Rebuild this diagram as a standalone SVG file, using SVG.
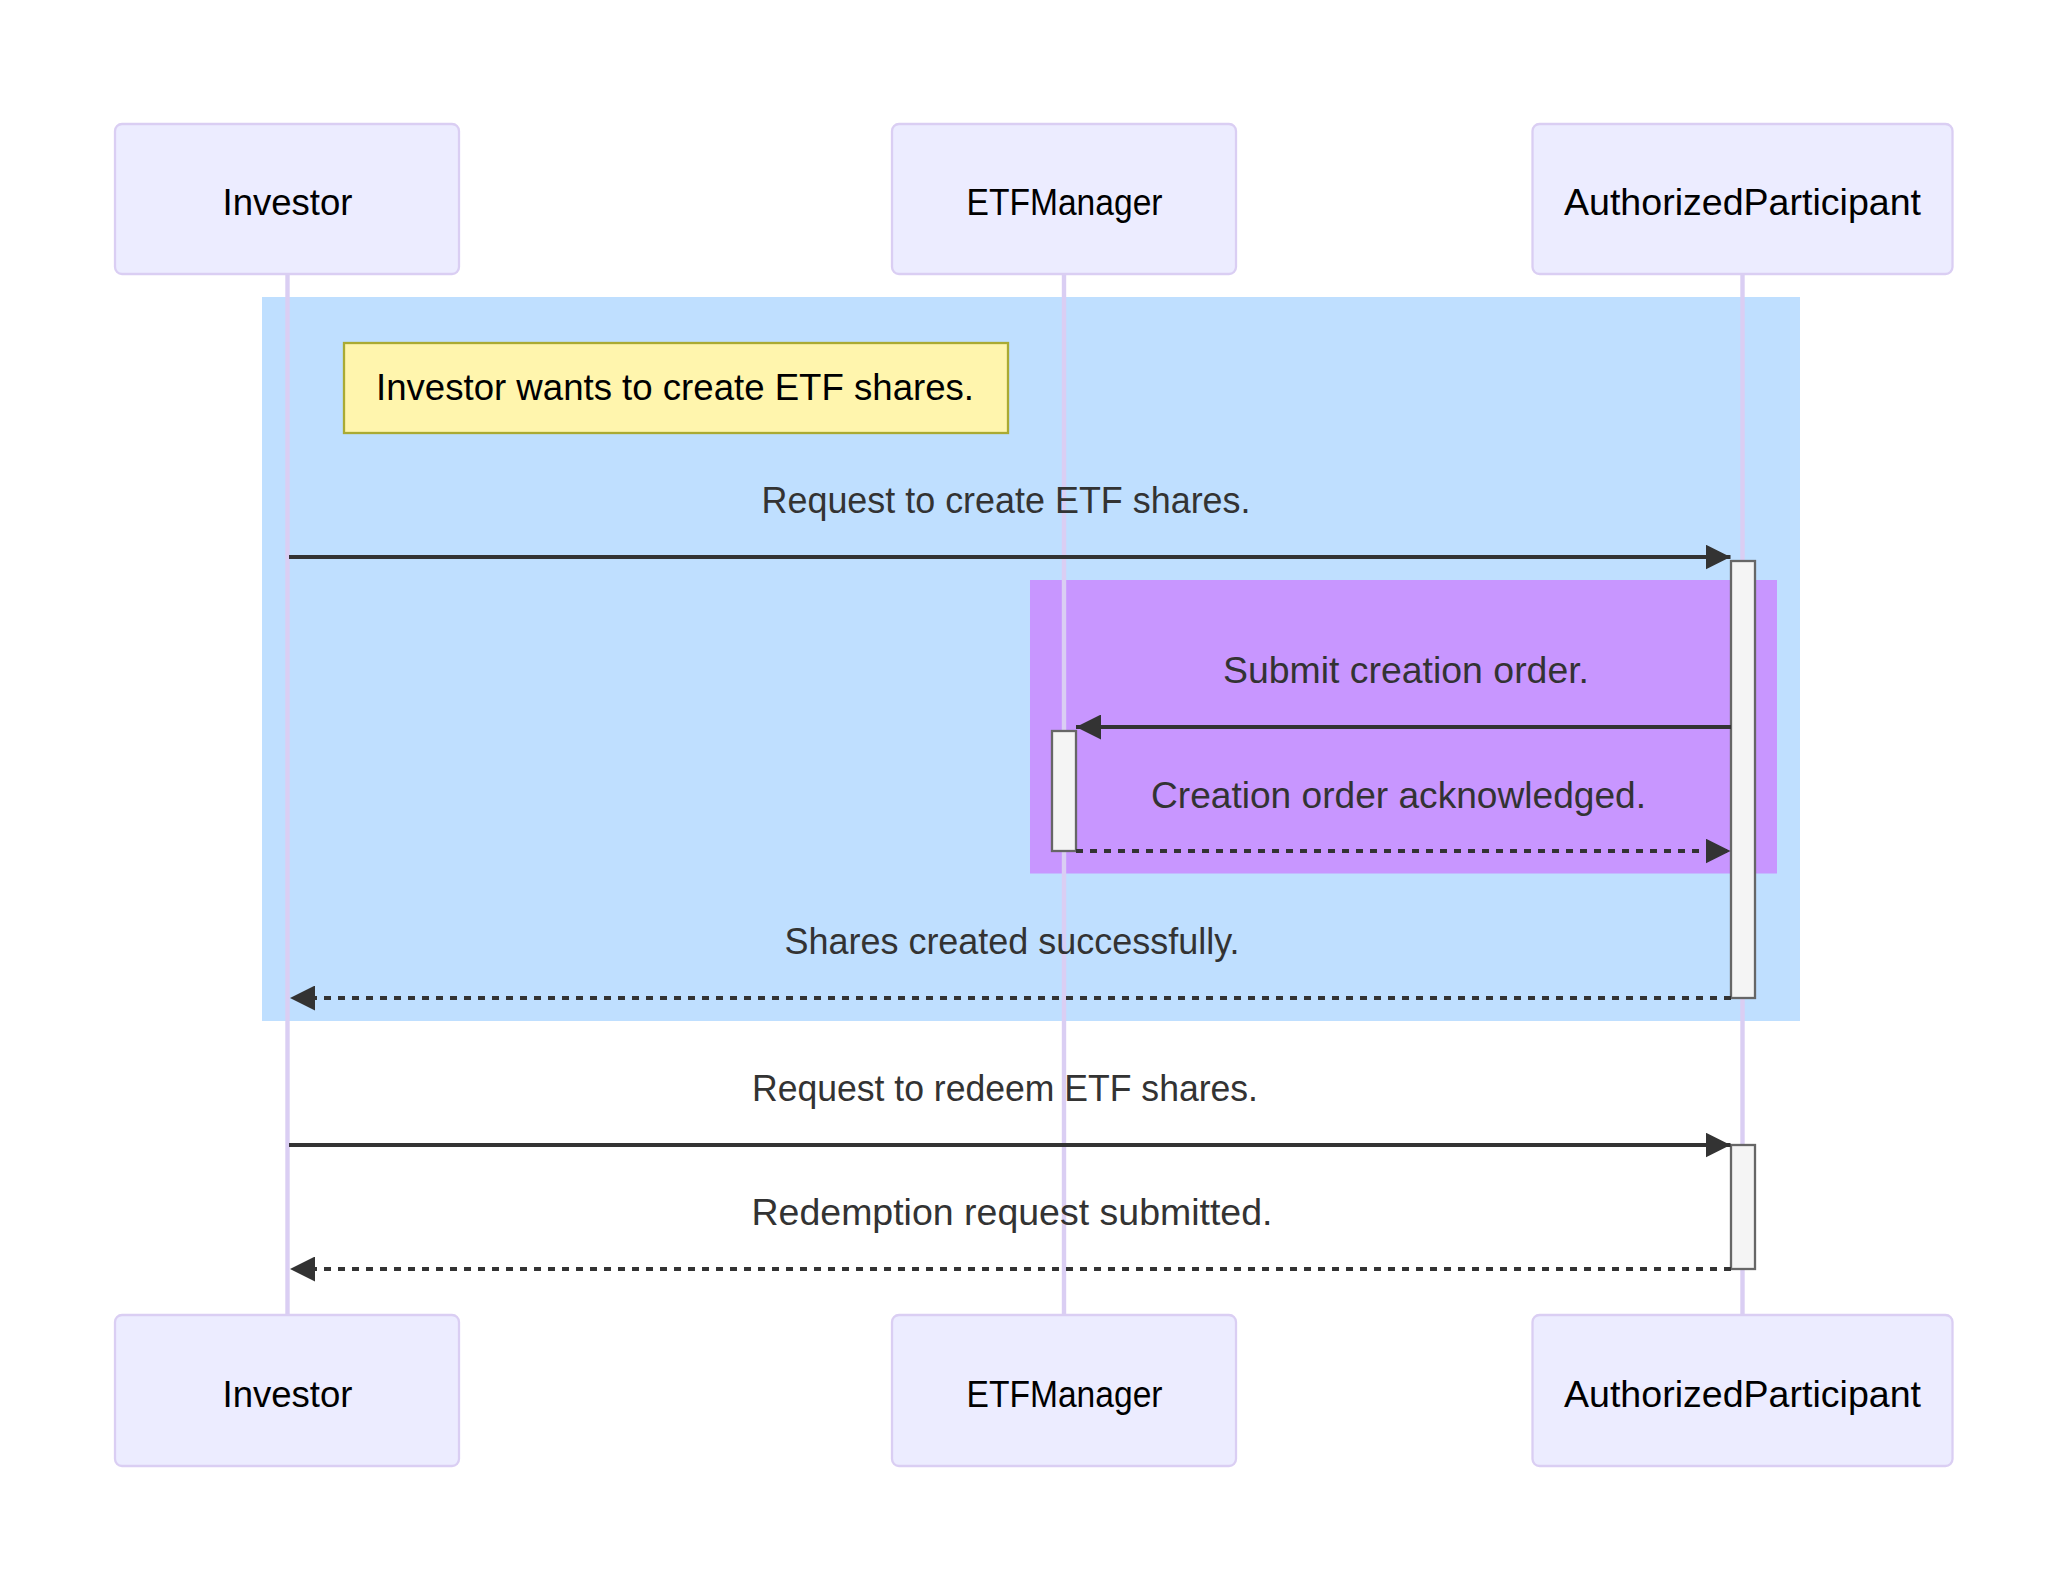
<svg xmlns="http://www.w3.org/2000/svg" width="2068" height="1592" viewBox="0 0 2068 1592">
<defs>
<style>
.actor{fill:#ececff;stroke:#dacef3;stroke-width:2.3}
.actorText{font-family:"Liberation Sans",Arial,sans-serif;font-size:36px;fill:#000;text-anchor:middle}
.lifeline{stroke:#dacef3;stroke-width:4.4}
.msg{stroke:#333;stroke-width:4;fill:none}
.dashed{stroke-dasharray:7,7}
.msgText{font-family:"Liberation Sans",Arial,sans-serif;font-size:36px;fill:#333;text-anchor:middle}
.act{fill:#f4f4f4;stroke:#666;stroke-width:2.3}
.note{fill:#fff5ad;stroke:#aaaa33;stroke-width:2.3}
.noteText{font-family:"Liberation Sans",Arial,sans-serif;font-size:36px;fill:#000;text-anchor:middle}
</style>
<marker id="arrow" markerUnits="userSpaceOnUse" markerWidth="25" markerHeight="25" viewBox="0 0 10 10" refX="10" refY="5" orient="auto">
<path d="M0,0 L10,5 L0,10 z" fill="#333"/>
</marker>
</defs>
<rect width="2068" height="1592" fill="#ffffff"/>
<g id="regions">
<rect x="262" y="297" width="1538" height="724" fill="rgb(191,223,255)"/>
<rect x="1030" y="580" width="747" height="293.5" fill="rgb(200,150,255)"/>
</g>
<g id="lifelines">
<line class="lifeline" x1="287.5" y1="274" x2="287.5" y2="1315"/>
<line class="lifeline" x1="1064" y1="274" x2="1064" y2="1315"/>
<line class="lifeline" x1="1742.5" y1="274" x2="1742.5" y2="1315"/>
</g>
<g id="actor-investor-top">
<rect class="actor" x="115" y="124" width="344" height="150" rx="7"/>
<text class="actorText" x="287.5" y="215" textLength="130" lengthAdjust="spacingAndGlyphs">Investor</text>
</g>
<g id="actor-etfmanager-top">
<rect class="actor" x="892" y="124" width="344" height="150" rx="7"/>
<text class="actorText" x="1064.5" y="215" textLength="196" lengthAdjust="spacingAndGlyphs">ETFManager</text>
</g>
<g id="actor-ap-top">
<rect class="actor" x="1532.5" y="124" width="420" height="150" rx="7"/>
<text class="actorText" x="1742.5" y="215" textLength="357" lengthAdjust="spacingAndGlyphs">AuthorizedParticipant</text>
</g>
<g id="actor-investor-bottom">
<rect class="actor" x="115" y="1315" width="344" height="151" rx="7"/>
<text class="actorText" x="287.5" y="1406.5" textLength="130" lengthAdjust="spacingAndGlyphs">Investor</text>
</g>
<g id="actor-etfmanager-bottom">
<rect class="actor" x="892" y="1315" width="344" height="151" rx="7"/>
<text class="actorText" x="1064.5" y="1406.5" textLength="196" lengthAdjust="spacingAndGlyphs">ETFManager</text>
</g>
<g id="actor-ap-bottom">
<rect class="actor" x="1532.5" y="1315" width="420" height="151" rx="7"/>
<text class="actorText" x="1742.5" y="1406.5" textLength="357" lengthAdjust="spacingAndGlyphs">AuthorizedParticipant</text>
</g>
<g id="activations">
<rect class="act" x="1731" y="561" width="24" height="437"/>
<rect class="act" x="1052" y="731" width="24" height="120"/>
<rect class="act" x="1731" y="1145" width="24" height="124"/>
</g>
<g id="note">
<rect class="note" x="344" y="343" width="664" height="90"/>
<text class="noteText" x="675" y="400" textLength="598" lengthAdjust="spacingAndGlyphs">Investor wants to create ETF shares.</text>
</g>
<g id="connectors">
<line class="msg" x1="289" y1="557" x2="1730.5" y2="557" marker-end="url(#arrow)"/>
<line class="msg" x1="1731" y1="727" x2="1076" y2="727" marker-end="url(#arrow)"/>
<line class="msg dashed" x1="1076" y1="851" x2="1730.5" y2="851" marker-end="url(#arrow)"/>
<line class="msg dashed" x1="1731" y1="998" x2="290" y2="998" marker-end="url(#arrow)"/>
<line class="msg" x1="289" y1="1145" x2="1730.5" y2="1145" marker-end="url(#arrow)"/>
<line class="msg dashed" x1="1731" y1="1269" x2="290" y2="1269" marker-end="url(#arrow)"/>
</g>
<g id="labels">
<text class="msgText" x="1006" y="513" textLength="489" lengthAdjust="spacingAndGlyphs">Request to create ETF shares.</text>
<text class="msgText" x="1406" y="683" textLength="366" lengthAdjust="spacingAndGlyphs">Submit creation order.</text>
<text class="msgText" x="1398.5" y="808" textLength="495" lengthAdjust="spacingAndGlyphs">Creation order acknowledged.</text>
<text class="msgText" x="1012" y="954" textLength="455" lengthAdjust="spacingAndGlyphs">Shares created successfully.</text>
<text class="msgText" x="1005" y="1101" textLength="506" lengthAdjust="spacingAndGlyphs">Request to redeem ETF shares.</text>
<text class="msgText" x="1012" y="1225" textLength="521" lengthAdjust="spacingAndGlyphs">Redemption request submitted.</text>
</g>
</svg>
